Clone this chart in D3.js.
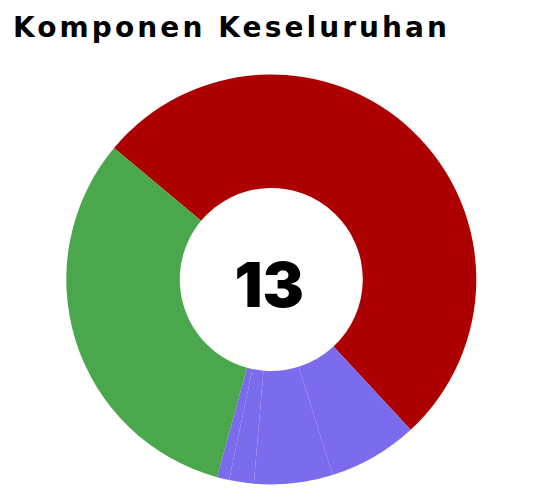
<!DOCTYPE html>
<html>
<head>
<meta charset="utf-8">
<script src="https://cdn.jsdelivr.net/npm/d3@7"></script>
<style>
    body { margin: 0; background: #fff; }
    svg { display: block; }
</style>
</head>
<body>
<div id="chart"></div>
<script>
/* eslint-env browser */

var titleText = "Komponen Keseluruhan",
    totalLabel = "13",
    categories = ["Merah", "Ungu 1", "Ungu 2", "Ungu 3", "Ungu 4", "Hijau"],
    values = [52.0, 7.06, 6.19, 1.94, 0.97, 31.8],
    colors = ["#ad0000", "#7a6cec", "#7a6cec", "#7a6cec", "#7a6cec", "#4aa74c"];

var width = 546,
    height = 497,
    cx = 271.3,
    cy = 279.5,
    outerR = 205,
    innerR = 91.5,
    startDeg = -50.1;

var svg = d3.select("#chart").append("svg")
    .attr("width", width)
    .attr("height", height);

// title, stretched with letter spacing to match the reference width
var title = svg.append("text")
    .attr("x", 13)
    .attr("y", 37)
    .attr("font-family", "'DejaVu Sans', sans-serif")
    .attr("font-weight", 700)
    .attr("font-size", 28)
    .attr("fill", "#000")
    .text(titleText);

var baseW = title.node().getComputedTextLength(),
    spacing = (434 - baseW) / (titleText.length - 1);
title.attr("letter-spacing", spacing);

var pie = d3.pie()
    .sort(null)
    .value(function (d) { return d.value; })
    .startAngle(startDeg * Math.PI / 180)
    .endAngle(startDeg * Math.PI / 180 + 2 * Math.PI);

var arc = d3.arc()
    .innerRadius(innerR)
    .outerRadius(outerR);

var data = categories.map(function (c, i) {
    return { name: c, value: values[i], color: colors[i] };
});

var g = svg.append("g")
    .attr("transform", "translate(" + cx + "," + cy + ")");

g.selectAll("path")
    .data(pie(data))
    .enter().append("path")
    .attr("d", arc)
    .attr("fill", function (d) { return d.data.color; });

g.append("text")
    .attr("x", -2)
    .attr("y", 27)
    .attr("text-anchor", "middle")
    .attr("font-family", "Inter, 'Noto Sans', sans-serif")
    .attr("font-weight", 900)
    .attr("font-size", 62)
    .attr("fill", "#000")
    .text(totalLabel);
</script>
</body>
</html>
